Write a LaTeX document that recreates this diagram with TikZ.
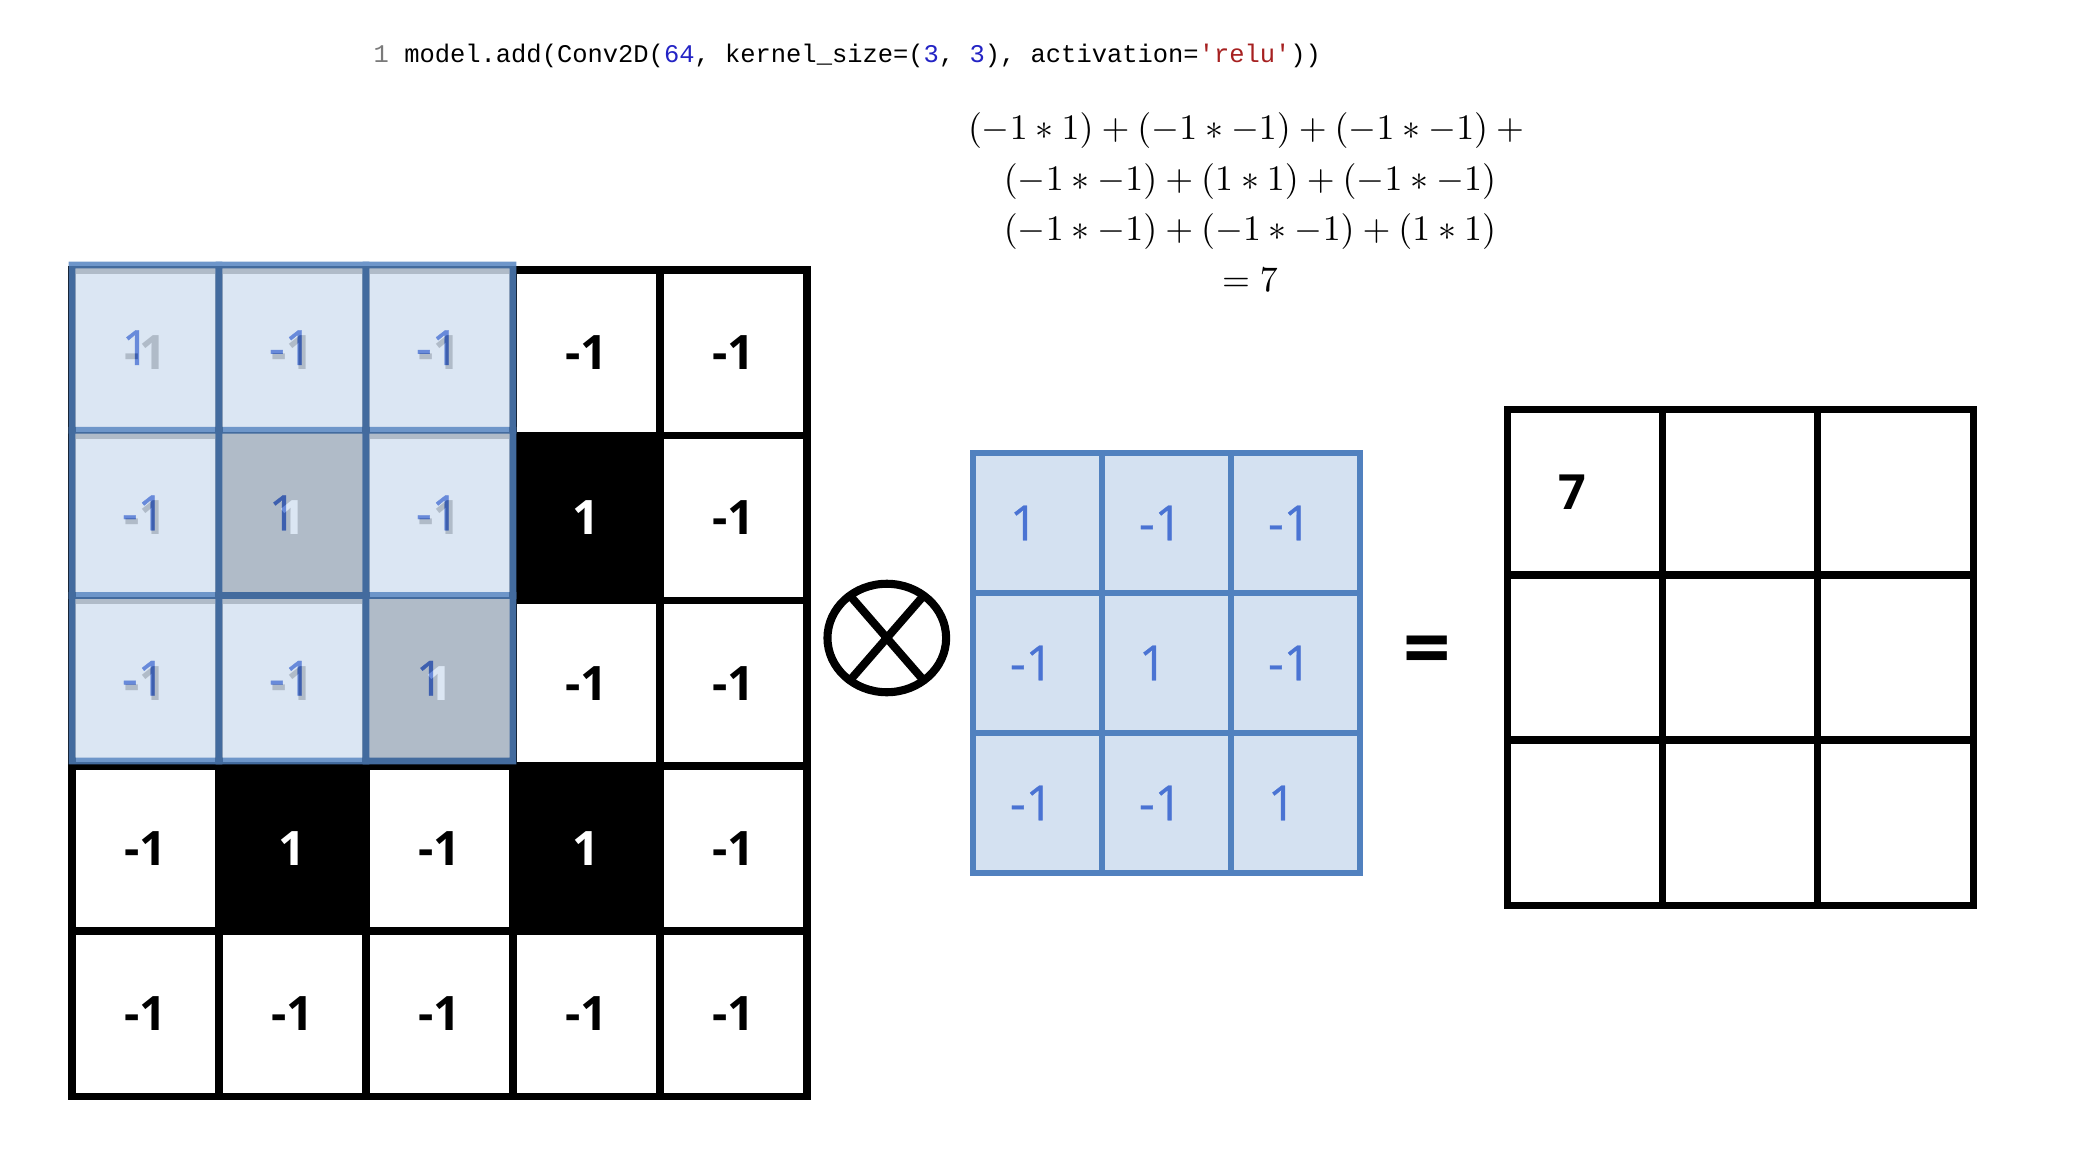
\RequirePackage{fix-cm}
\documentclass[tikz,border=0pt]{standalone}
\usepackage{fontspec}
\usepackage{xcolor}
\usepackage{tikz}
\usetikzlibrary{shapes.geometric,positioning,calc}
\newfontfamily\cellfont{Open Sans}
\newfontfamily\kernfont{Open Sans}[FakeBold=0.7]
\newfontfamily\codefont{Liberation Mono}
\definecolor{KBlue}   {HTML}{5181BF}
\definecolor{KFill}   {HTML}{D4E1F1}
\definecolor{KText}   {HTML}{4A73D3}
\definecolor{CodeBlue}{HTML}{2323C4}
\definecolor{CodeRed} {HTML}{A62020}
\definecolor{CodeGray}{HTML}{7A7A7A}

\begin{document}
\begin{tikzpicture}[x=0.01cm,y=-0.01cm,
    incell/.style={draw=black,line width=2.1pt,inner sep=0pt,minimum width=1.47cm,minimum height=1.653cm,
      font=\cellfont\bfseries\fontsize{13.5}{16}\selectfont},
    kcell/.style={draw=KBlue,fill=KFill,line width=1.9pt,text=KText,align=left,inner ysep=0pt,
      inner xsep=0.37cm,text width=0.55cm,minimum height=1.40cm,font=\kernfont\fontsize{13.8}{16}\selectfont},
    ovcell/.style={kcell,inner xsep=0.50cm,text width=0.47cm,minimum height=1.653cm},
    outcell/.style={draw=black,line width=2pt,align=left,inner ysep=0pt,inner xsep=0.51cm,text width=0.533cm,
      minimum height=1.65cm,font=\cellfont\bfseries\fontsize{13.8}{16}\selectfont},
    op/.style={draw=black,line width=2.3pt}
  ]
    \useasboundingbox (0,0) rectangle (2076,1152);
    \node[anchor=base west,inner sep=0pt,font=\codefont\fontsize{7.24}{9}\selectfont](code) at (373,62.6)
      {\textcolor{CodeGray}{1} model.add(Conv2D(\textcolor{CodeBlue}{64}, kernel\_size=(\textcolor{CodeBlue}{3}, \textcolor{CodeBlue}{3}), activation=\textcolor{CodeRed}{'relu'}))};
    \node[anchor=north,align=center,inner sep=0pt,font=\fontsize{10.2}{14.4}\selectfont](calc) at (1250,112)
      {$(-1*1)+(-1*-1)+(-1*-1)+{}$\\ $(-1*-1)+(1*1)+(-1*-1)$\\ $(-1*-1)+(-1*-1)+(1*1)$\\ $=7$};
    \foreach \row [count=\r] in {{-1,-1,-1,-1,-1},{-1,1,-1,1,-1},{-1,-1,1,-1,-1},{-1,1,-1,1,-1},{-1,-1,-1,-1,-1}}
      \foreach \v [count=\c] in \row {
        \ifnum\v=1 \def\bg{black}\def\fg{white}\else \def\bg{white}\def\fg{black}\fi
        \node[incell,fill=\bg,text=\fg](in-\r-\c) at ({145.5+147*(\c-1)},{352.65+165.3*(\r-1)}) {\v};
      }
    \begin{scope}[transparency group,opacity=0.83]
      \foreach \row [count=\r] in {{1,-1,-1},{-1,1,-1},{-1,-1,1}}
        \foreach \v [count=\c] in \row
          \node[ovcell](ov-\r-\c) at ({145.5+147*(\c-1)},{347.65+165.3*(\r-1)}) {\v};
    \end{scope}
    \node[ellipse,op,minimum width=1.186cm,minimum height=1.084cm,inner sep=0pt,outer sep=0pt](ot) at (886.8,638) {};
    \draw[op](ot.131)--(ot.-49);
    \draw[op](ot.49)--(ot.-131);
    \foreach \row [count=\r] in {{1,-1,-1},{-1,1,-1},{-1,-1,1}}
      \foreach \v [count=\c] in \row
        \node[kcell](k-\r-\c) at ({1037.5+129*(\c-1)},{523+140*(\r-1)}) {\v};
    \node[inner sep=0pt,font=\cellfont\bfseries\fontsize{23.6}{28}\selectfont](eq) at (1427,657) {=};
    \foreach \r in {1,2,3}
      \foreach \c in {1,2,3} {
        \ifnum\r\c=11 \def\t{7}\else \def\t{}\fi
        \node[outcell](out-\r-\c) at ({1584.7+155.33*(\c-1)},{492.5+165*(\r-1)}) {\t};
      }
  \end{tikzpicture}
\end{document}
